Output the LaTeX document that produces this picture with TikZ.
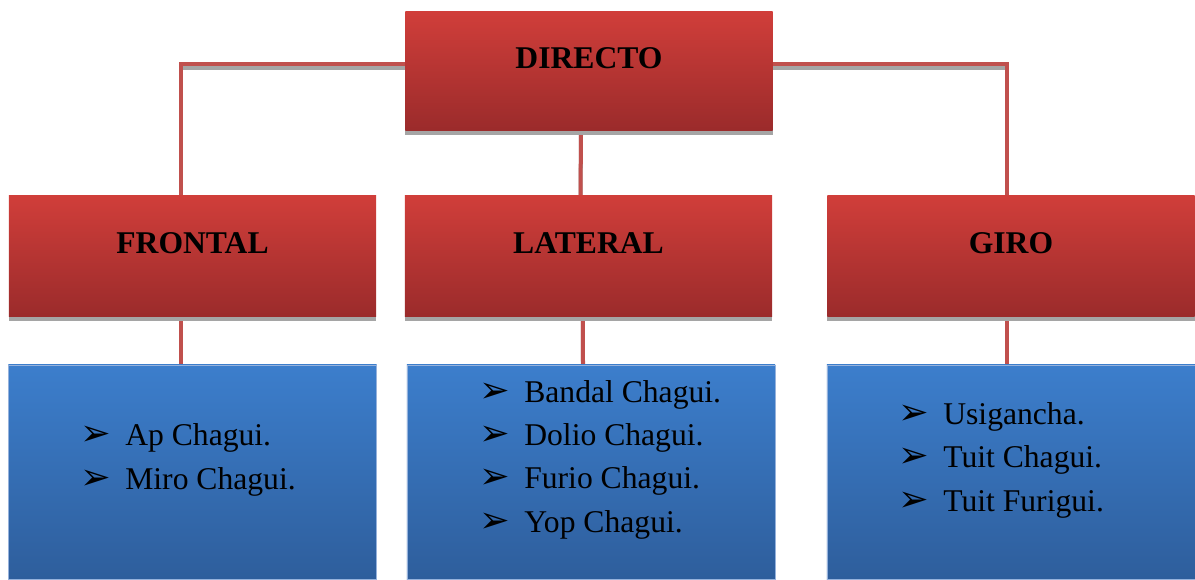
\documentclass[tikz,border=0pt]{standalone}
\usepackage{fontspec}
\setmainfont{Liberation Serif}
\newfontfamily\dingfont{DejaVu Sans}
\usetikzlibrary{shadows,backgrounds}
\definecolor{rtop}{RGB}{208,62,58}
\definecolor{rbot}{RGB}{155,43,43}
\definecolor{btop}{RGB}{60,126,204}
\definecolor{bbot}{RGB}{46,94,156}
\definecolor{bedge}{RGB}{150,178,220}
\definecolor{lred}{RGB}{192,80,77}
\definecolor{lgray}{RGB}{165,165,165}
\newcommand{\kick}[1]{\makebox[1.125cm][l]{{\dingfont\fontsize{26}{26}\selectfont ➢}}#1}
\tikzset{
  head/.style ={rectangle, top color=rtop, bottom color=rbot, draw=none,
                minimum width=9.175cm, minimum height=3cm,
                drop shadow={shadow xshift=0pt, shadow yshift=-0.12cm, fill=lgray, opacity=1}},
  kicks/.style={rectangle, top color=btop, bottom color=bbot, draw=bedge, line width=0.6pt,
                minimum width=9.2cm, minimum height=5.35cm},
  ttl/.style  ={font=\fontsize{22.5}{27}\selectfont\bfseries, anchor=base, inner sep=0pt},
  lst/.style  ={font=\fontsize{22.5}{30.6}\selectfont, align=left, anchor=base west, inner sep=0pt},
  link/.style ={draw=lred, line width=0.1cm,
                preaction={draw=lgray, line width=0.1cm, transform canvas={yshift=-0.1cm}}}
}
\begin{document}
\begin{tikzpicture}[x=0.025cm, y=-0.025cm]
\useasboundingbox (0,0) rectangle (1195,579);

% top level
\node[head, minimum height=2.95cm] (directo) at (589,71) {};
\node[ttl] (tdirecto) at (589,68) {DIRECTO};

% second level
\node[head] (frontal) at (192.5,256) {};
\node[head] (lateral) at (588.5,256) {};
\node[head] (giro)    at (1011,256) {};
\node[ttl] (tfrontal) at (192.5,253) {FRONTAL};
\node[ttl] (tlateral) at (588.5,253) {LATERAL};
\node[ttl] (tgiro)    at (1011,253) {GIRO};

% kick lists (anchored at the last line)
\node[kicks] (lfrontal) at (192.5,472) {};
\node[kicks] (llateral) at (591,472) {};
\node[kicks] (lgiro)    at (1011,472) {};
\node[lst] (kfrontal) at (80,489) {\kick{Ap Chagui.}\\\kick{Miro Chagui.}};
\node[lst] (klateral) at (479,532)
  {\kick{Bandal Chagui.}\\\kick{Dolio Chagui.}\\\kick{Furio Chagui.}\\\kick{Yop Chagui.}};
\node[lst] (kgiro) at (898,511) {\kick{Usigancha.}\\\kick{Tuit Chagui.}\\\kick{Tuit Furigui.}};

\begin{scope}[on background layer]
\draw[link] ([yshift=0.175cm]directo.west) -| ([xshift=-0.29cm]frontal.north);
\draw[link] ([yshift=0.175cm]directo.east) -| ([xshift=-0.1cm]giro.north);
\draw[link] ([xshift=-0.2cm]directo.south) -- ([xshift=-0.2cm]lateral.north);
\draw[link] ([xshift=-0.29cm]frontal.south) -- ([xshift=-0.29cm]lfrontal.north);
\draw[link] ([xshift=-0.14cm]lateral.south) -- ([xshift=-0.2cm]llateral.north);
\draw[link] ([xshift=-0.09cm]giro.south) -- ([xshift=-0.09cm]lgiro.north);
\end{scope}
\end{tikzpicture}
\end{document}
